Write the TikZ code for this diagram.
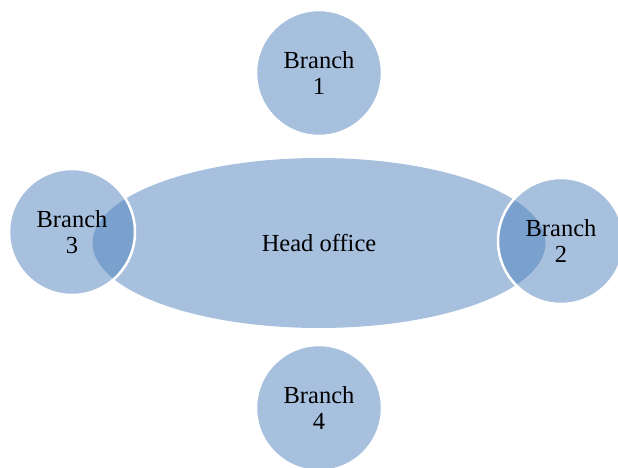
\documentclass[tikz,border=0pt]{standalone}
\usepackage{fontspec}
\setmainfont{Liberation Serif}
\usetikzlibrary{shapes.geometric}
\definecolor{vennblue}{HTML}{4F81BD}
\begin{document}
\begin{tikzpicture}[x=1pt, y=-1pt, font=\fontsize{24.5}{26.5}\selectfont,
  venn/.style={fill=vennblue, fill opacity=0.5, text opacity=1, inner sep=0pt, align=center}]
\useasboundingbox (0,0) rectangle (618,468);
\node[venn, ellipse, minimum width=453pt, minimum height=170pt] (head) at (319,243) {Head office};
\foreach \n/\x/\y in {1/319/73, 2/561/241, 3/72/232, 4/319/408}
\node[venn, circle, draw=white, line width=2.5pt, minimum size=126pt] (branch\n) at (\x,\y) {Branch\\\n};
\end{tikzpicture}
\end{document}
